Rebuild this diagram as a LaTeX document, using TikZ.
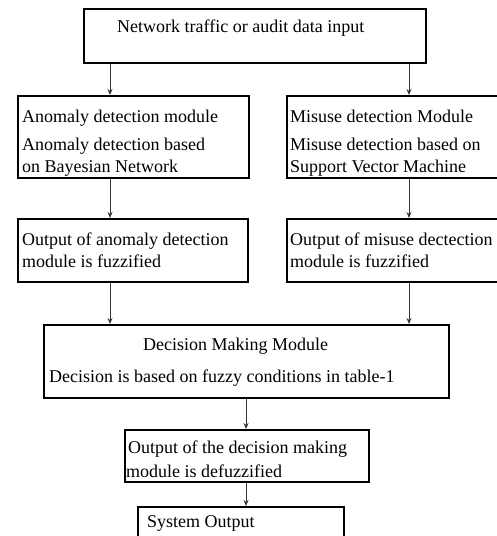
\documentclass[tikz,border=0pt]{standalone}
\usepackage{fontspec}
\setmainfont{Liberation Serif}
\usetikzlibrary{arrows.meta}
\begin{document}
\begin{tikzpicture}[x=1pt,y=-1pt,
  box/.style={draw, line width=1.5pt, inner sep=0pt, anchor=north west},
  txt/.style={anchor=base west, inner sep=0pt, font=\fontsize{18}{21}\selectfont},
  arr/.style={-{Stealth[length=6pt,width=5pt]}, line width=0.9pt, draw=black!80, fill=black}]
\useasboundingbox (0,0) rectangle (497,536);
% boxes
\node[box, minimum width=342pt, minimum height=54pt] (b1) at (83,8) {};
\node[box, minimum width=231pt, minimum height=82pt] (b2) at (17,95) {};
\node[box, minimum width=230pt, minimum height=82pt] (b3) at (286,95) {};
\node[box, minimum width=230pt, minimum height=63pt] (b4) at (17,218) {};
\node[box, minimum width=230pt, minimum height=63pt] (b5) at (286,218) {};
\node[box, minimum width=405pt, minimum height=73pt] (b6) at (43,324) {};
\node[box, minimum width=244pt, minimum height=52pt] (b7) at (124,429) {};
\node[box, minimum width=206pt, minimum height=40pt] (b8) at (137,506) {};
% texts
\node[txt] (t1) at (117,32) {Network traffic or audit data input};
\node[txt] (t2a) at (22,122) {Anomaly detection module};
\node[txt] (t2b) at (22,150) {Anomaly detection based};
\node[txt] (t2c) at (22,172) {on Bayesian Network};
\node[txt] (t3a) at (290,122) {Misuse detection Module};
\node[txt] (t3b) at (290,150) {Misuse detection based on};
\node[txt] (t3c) at (290,172) {Support Vector Machine};
\node[txt] (t4a) at (22,245) {Output of anomaly detection};
\node[txt] (t4b) at (22,267) {module is fuzzified};
\node[txt] (t5a) at (290,245) {Output of misuse dectection};
\node[txt] (t5b) at (290,267) {module is fuzzified};
\node[txt] (t6a) at (143,350) {Decision Making Module};
\node[txt] (t6b) at (49,382) {Decision is based on fuzzy conditions in table-1};
\node[txt] (t7a) at (128,453) {Output of the decision making};
\node[txt] (t7b) at (126,477) {module is defuzzified};
\node[txt] (t8) at (147,527) {System Output};
% arrow columns
\coordinate (cL) at (110,0);
\coordinate (cR) at (409,0);
\coordinate (cM) at (246,0);
\draw[arr] (cL |- b1.south) -- (cL |- b2.north);
\draw[arr] (cR |- b1.south) -- (cR |- b3.north);
\draw[arr] (cL |- b2.south) -- (cL |- b4.north);
\draw[arr] (cR |- b3.south) -- (cR |- b5.north);
\draw[arr] (cL |- b4.south) -- (cL |- b6.north);
\draw[arr] (cR |- b5.south) -- (cR |- b6.north);
\draw[arr] (cM |- b6.south) -- (cM |- b7.north);
\draw[arr] (cM |- b7.south) -- (cM |- b8.north);
\end{tikzpicture}
\end{document}
